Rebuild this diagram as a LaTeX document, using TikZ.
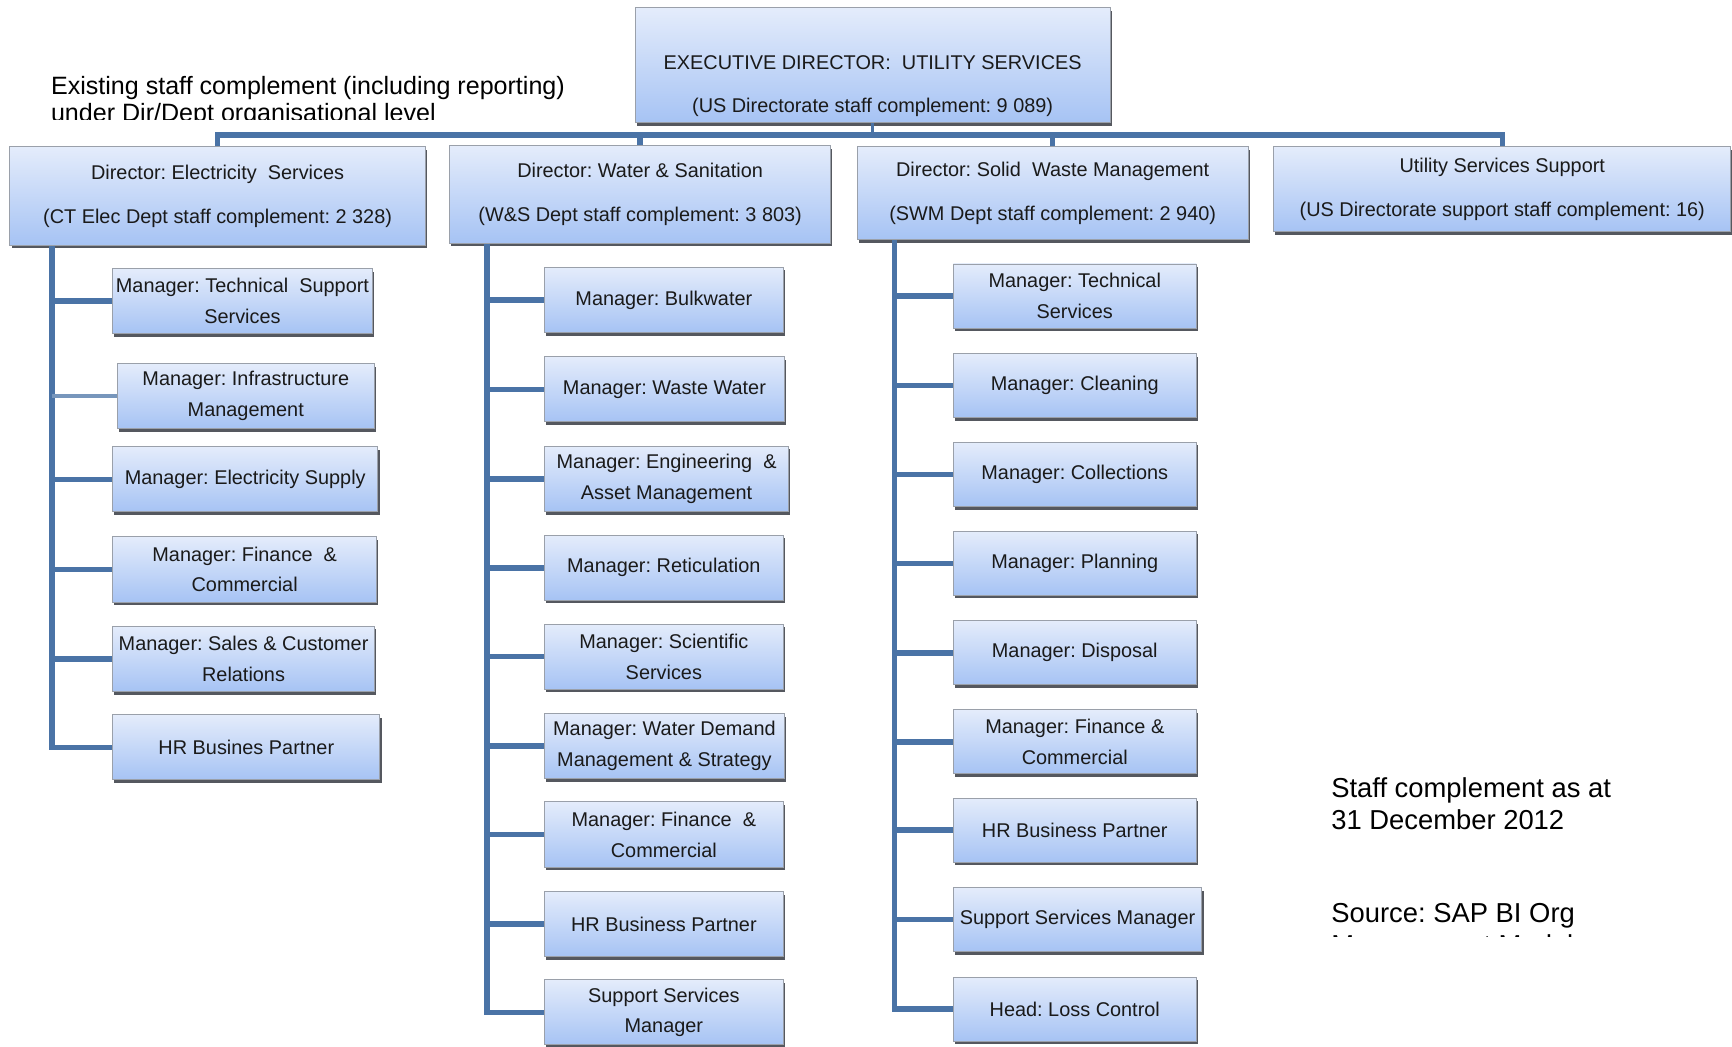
\documentclass[tikz,border=0pt]{standalone}
\usepackage{fontspec}
\setmainfont{Liberation Sans}
\usetikzlibrary{shadows,calc}
\frenchspacing

\definecolor{boxtop}{HTML}{E4ECFB}
\definecolor{boxbot}{HTML}{A6C3F4}
\definecolor{boxedge}{HTML}{9AA0AA}
\definecolor{boxshade}{HTML}{55585F}
\definecolor{linkblue}{HTML}{4A73A6}
\definecolor{ink}{HTML}{1A1A1A}

\tikzset{
  orgbox/.style={rectangle, draw=boxedge, line width=0.9pt,
    top color=boxtop, bottom color=boxbot, inner sep=0pt, align=center,
    text=ink,
    general shadow={fill=boxshade, shadow xshift=1.6pt, shadow yshift=-2.8pt}},
  mgr/.style={orgbox, minimum height=59pt, font=\fontsize{18}{28}\selectfont},
  dirbox/.style={orgbox, font=\fontsize{18}{39.5}\selectfont},
  boxtext/.style={align=center, text=ink, inner sep=0pt, font=\fontsize{18}{39.5}\selectfont},
  link/.style={draw=linkblue, line width=5pt},
  note/.style={anchor=base west, inner sep=0pt, text=black},
}

\begin{document}
\begin{tikzpicture}[x=1pt, y=-1pt]
\useasboundingbox (0,0) rectangle (1568,947);
\clip (0,0) rectangle (1568,947);

% ---------- top level ----------
\node[dirbox, minimum width=430pt, minimum height=104pt] (exec) at (790,59) {};
\node[boxtext] (exectext) at (790,78)
  {EXECUTIVE DIRECTOR:\ \ UTILITY SERVICES\\(US Directorate staff complement: 9 089)};

% ---------- directors ----------
\node[dirbox, minimum width=376pt, minimum height=89pt] (elec) at (197,177.5)
  {Director: Electricity\ \ Services\\(CT Elec Dept staff complement: 2 328)};
\node[dirbox, minimum width=345pt, minimum height=88pt] (ws) at (579.5,176)
  {Director: Water \& Sanitation\\(W\&S Dept staff complement: 3 803)};
\node[dirbox, minimum width=354pt, minimum height=84pt] (swm) at (953,175)
  {Director: Solid\ \ Waste Management\\(SWM Dept staff complement: 2 940)};
\node[dirbox, minimum width=414pt, minimum height=77pt] (uss) at (1360,171.5)
  {Utility Services Support\\(US Directorate support staff complement: 16)};

% ---------- electricity managers ----------
\node[mgr, minimum width=235pt] (e1) at (219.5,272.5) {Manager: Technical\ \ Support\\Services};
\node[mgr, minimum width=233pt] (e2) at (222.5,358.5) {Manager: Infrastructure\\Management};
\node[mgr, minimum width=240pt] (e3) at (222,434) {Manager: Electricity Supply};
\node[mgr, minimum width=239pt] (e4) at (221.5,515.5) {Manager: Finance\ \ \&\\Commercial};
\node[mgr, minimum width=237pt] (e5) at (220.5,596.5) {Manager: Sales \& Customer\\Relations};
\node[mgr, minimum width=242pt] (e6) at (223,676.5) {HR Busines Partner};

% ---------- water & sanitation managers ----------
\node[mgr, minimum width=216pt] (w1) at (601,271.5) {Manager: Bulkwater};
\node[mgr, minimum width=217pt] (w2) at (601.5,352.5) {Manager: Waste Water};
\node[mgr, minimum width=221pt] (w3) at (603.5,433.5) {Manager: Engineering\ \ \&\\Asset Management};
\node[mgr, minimum width=216pt] (w4) at (601,514) {Manager: Reticulation};
\node[mgr, minimum width=216pt] (w5) at (601,594.5) {Manager: Scientific\\Services};
\node[mgr, minimum width=217pt] (w6) at (601.5,675.5) {Manager: Water Demand\\Management \& Strategy};
\node[mgr, minimum width=216pt] (w7) at (601,755.5) {Manager: Finance\ \ \&\\Commercial};
\node[mgr, minimum width=216pt] (w8) at (601,836.5) {HR Business Partner};
\node[mgr, minimum width=216pt] (w9) at (601,916.5) {Support Services\\Manager};

% ---------- solid waste managers ----------
\node[mgr, minimum width=220pt, minimum height=58pt] (s1) at (973,268) {Manager: Technical\\Services};
\node[mgr, minimum width=220pt, minimum height=58pt] (s2) at (973,349) {Manager: Cleaning};
\node[mgr, minimum width=220pt, minimum height=58pt] (s3) at (973,429.5) {Manager: Collections};
\node[mgr, minimum width=220pt, minimum height=58pt] (s4) at (973,510) {Manager: Planning};
\node[mgr, minimum width=220pt, minimum height=58pt] (s5) at (973,591) {Manager: Disposal};
\node[mgr, minimum width=220pt, minimum height=58pt] (s6) at (973,671.5) {Manager: Finance \&\\Commercial};
\node[mgr, minimum width=220pt, minimum height=58pt] (s7) at (973,751.5) {HR Business Partner};
\node[mgr, minimum width=225pt, minimum height=58pt] (s8) at (975.5,832.5) {Support Services Manager};
\node[mgr, minimum width=220pt, minimum height=58pt] (s9) at (973,913.5) {Head: Loss Control};

% ---------- top bus ----------
\coordinate (bus) at (790,122);
\draw[link, line width=3pt] (exec.south) -- (exec.south |- bus);
\draw[link] (elec.north) -- (elec.north |- bus) -- (uss.north |- bus) -- (uss.north);
\draw[link] (ws.north) -- (ws.north |- bus);
\draw[link] (swm.north) -- (swm.north |- bus);

% ---------- spines ----------
\coordinate (espine) at (47,0);
\coordinate (wspine) at (441,0);
\coordinate (sspine) at (810,0);

\draw[link] (elec.south -| espine) |- (e6.west);
\foreach \i in {1,3,4,5} \draw[link] (e\i.west) -- (e\i.west -| espine);
\draw[link, draw=linkblue!75, line width=4pt] (e2.west) -- (e2.west -| espine);

\draw[link] (ws.south -| wspine) |- (w9.west);
\foreach \i in {1,...,8} \draw[link] (w\i.west) -- (w\i.west -| wspine);

\draw[link] (swm.south -| sspine) |- (s9.west);
\foreach \i in {1,...,8} \draw[link] (s\i.west) -- (s\i.west -| sspine);

% ---------- notes ----------
\node[note, font=\fontsize{22.7}{24}\selectfont] (existing) at (46,86)
  {Existing staff complement (including reporting)};
\begin{scope}
  \clip (0,90) rectangle (700,108.5);
  \node[note, font=\fontsize{22.7}{24}\selectfont] (dirlevel) at (46,110)
    {under Dir/Dept organisational level};
\end{scope}

\node[note, font=\fontsize{24.8}{29}\selectfont] (asat) at (1205,722) {Staff complement as at};
\node[note, font=\fontsize{24.8}{29}\selectfont] (asdate) at (1205,751) {31 December 2012};
\node[note, font=\fontsize{24.8}{29}\selectfont] (source) at (1205,835) {Source: SAP BI Org};
\begin{scope}
  \clip (1190,840) rectangle (1568,848);
  \node[note, font=\fontsize{24.8}{29}\selectfont] (model) at (1205,864) {Management Model};
\end{scope}
\end{tikzpicture}
\end{document}
